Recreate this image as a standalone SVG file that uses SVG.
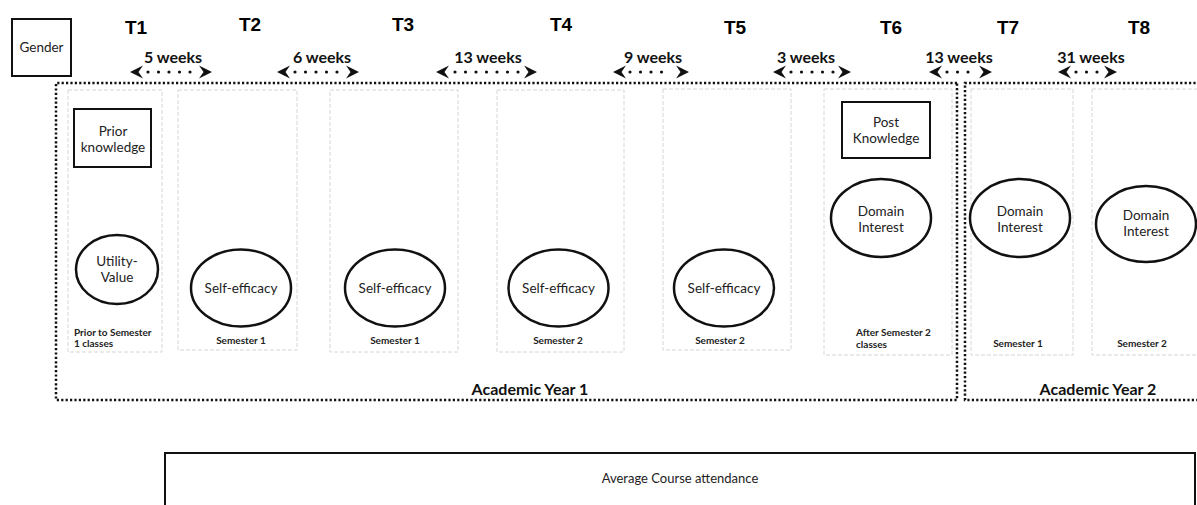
<svg xmlns="http://www.w3.org/2000/svg" width="1197" height="505" viewBox="0 0 1197 505">
<style>
.bg{fill:#ffffff}
.tlabel{font-family:"Liberation Sans",Arial,sans-serif;font-weight:bold;font-size:19px;fill:#000;text-anchor:middle}
.wk{font-family:Lato,"Liberation Sans",sans-serif;font-weight:bold;font-size:16px;fill:#111;text-anchor:middle}
.node{font-family:Lato,"Liberation Sans",sans-serif;font-size:13.5px;fill:#222;text-anchor:middle}
.small{font-family:Lato,"Liberation Sans",sans-serif;font-weight:bold;font-size:10px;fill:#222}
.ay{font-family:Lato,"Liberation Sans",sans-serif;font-weight:bold;font-size:16px;fill:#111;text-anchor:middle}
.box{fill:#fff;stroke:#111;stroke-width:2}
.ell{fill:#fff;stroke:#111;stroke-width:2.5}
.col{fill:none;stroke:#d6d6d6;stroke-width:1;stroke-dasharray:4 2}
.year{fill:none;stroke:#111;stroke-width:2.5;stroke-dasharray:2.2 2.2}
.dots{stroke:#111;stroke-width:3.2;stroke-linecap:round;stroke-dasharray:0 10.5;fill:none}
.head{fill:#111}
</style>
<defs>
<path id="hd" class="head" d="M0,-6.5 L13,0 L0,6.5 L4.5,0 Z"/>
</defs>
<rect class="bg" x="0" y="0" width="1197" height="505"/>

<g id="timepoints">
<text class="tlabel" x="136" y="34">T1</text>
<text class="tlabel" x="250" y="31">T2</text>
<text class="tlabel" x="403" y="31">T3</text>
<text class="tlabel" x="561" y="31">T4</text>
<text class="tlabel" x="735" y="34">T5</text>
<text class="tlabel" x="891" y="34">T6</text>
<text class="tlabel" x="1008" y="34">T7</text>
<text class="tlabel" x="1139" y="34">T8</text>
</g>

<g id="gender">
<rect class="box" x="12" y="19" width="59" height="57"/>
<text class="node" x="41.5" y="52">Gender</text>
</g>

<g id="year1">
<path class="year" d="M957,83 H56 V400 H957 Z"/>
<text class="ay" x="530" y="395">Academic Year 1</text>
</g>
<g id="year2">
<path class="year" d="M1200,83 H965 V400 H1200"/>
<text class="ay" x="1098" y="395">Academic Year 2</text>
</g>

<g id="col1">
<rect class="col" x="68" y="90" width="94" height="262"/>
<text class="small" x="74" y="336">Prior to Semester</text>
<text class="small" x="74" y="347">1 classes</text>
</g>
<g id="col2">
<rect class="col" x="178" y="90" width="119" height="260"/>
<text class="small" x="241" y="344" text-anchor="middle">Semester 1</text>
</g>
<g id="col3">
<rect class="col" x="330" y="90" width="128" height="262"/>
<text class="small" x="395" y="344" text-anchor="middle">Semester 1</text>
</g>
<g id="col4">
<rect class="col" x="497" y="90" width="127" height="262"/>
<text class="small" x="558" y="344" text-anchor="middle">Semester 2</text>
</g>
<g id="col5">
<rect class="col" x="663" y="89" width="128" height="261"/>
<text class="small" x="720" y="344" text-anchor="middle">Semester 2</text>
</g>
<g id="col6">
<rect class="col" x="824" y="89" width="128" height="266"/>
<text class="small" x="856" y="336">After Semester 2</text>
<text class="small" x="856" y="348">classes</text>
</g>
<g id="col7">
<rect class="col" x="971" y="89" width="102" height="266"/>
<text class="small" x="1018" y="347" text-anchor="middle">Semester 1</text>
</g>
<g id="col8">
<rect class="col" x="1092" y="89" width="120" height="266"/>
<text class="small" x="1142" y="347" text-anchor="middle">Semester 2</text>
</g>

<g id="prior-knowledge">
<rect class="box" x="74" y="109" width="77" height="58"/>
<text class="node" x="113" y="136">Prior</text>
<text class="node" x="113" y="152">knowledge</text>
</g>
<g id="post-knowledge">
<rect class="box" x="842" y="102" width="88" height="56"/>
<text class="node" x="886" y="127">Post</text>
<text class="node" x="886" y="143">Knowledge</text>
</g>

<g id="utility-value">
<ellipse class="ell" cx="117" cy="269.5" rx="41" ry="34.5"/>
<text class="node" x="117" y="266">Utility-</text>
<text class="node" x="117" y="282">Value</text>
</g>
<g id="self-efficacy-1">
<ellipse class="ell" cx="241" cy="288" rx="50" ry="38.5"/>
<text class="node" x="241" y="293">Self-efficacy</text>
</g>
<g id="self-efficacy-2">
<ellipse class="ell" cx="395" cy="288" rx="50" ry="38.5"/>
<text class="node" x="395" y="293">Self-efficacy</text>
</g>
<g id="self-efficacy-3">
<ellipse class="ell" cx="558.5" cy="288" rx="50" ry="38.5"/>
<text class="node" x="558.5" y="293">Self-efficacy</text>
</g>
<g id="self-efficacy-4">
<ellipse class="ell" cx="724" cy="288" rx="50" ry="38.5"/>
<text class="node" x="724" y="293">Self-efficacy</text>
</g>
<g id="domain-interest-1">
<ellipse class="ell" cx="881" cy="218" rx="50" ry="39"/>
<text class="node" x="881" y="216">Domain</text>
<text class="node" x="881" y="232">Interest</text>
</g>
<g id="domain-interest-2">
<ellipse class="ell" cx="1020" cy="218" rx="50" ry="39"/>
<text class="node" x="1020" y="216">Domain</text>
<text class="node" x="1020" y="232">Interest</text>
</g>
<g id="domain-interest-3">
<ellipse class="ell" cx="1146" cy="224" rx="50" ry="38"/>
<text class="node" x="1146" y="220">Domain</text>
<text class="node" x="1146" y="236">Interest</text>
</g>

<g id="attendance">
<path class="box" d="M165,520 V453 H1195 V520" fill="#fff"/>
<text class="node" x="680" y="483" style="font-size:13px">Average Course attendance</text>
</g>

<g id="connectors">
<g id="arrow-5w">
<line class="dots" x1="148" y1="72" x2="196" y2="72"/>
<use href="#hd" transform="translate(143,72) scale(-1,1)"/>
<use href="#hd" transform="translate(199,72)"/>
</g>
<g id="arrow-6w">
<line class="dots" x1="295" y1="72" x2="342" y2="72"/>
<use href="#hd" transform="translate(290,72) scale(-1,1)"/>
<use href="#hd" transform="translate(346,72)"/>
</g>
<g id="arrow-13w">
<line class="dots" x1="455" y1="72" x2="520" y2="72"/>
<use href="#hd" transform="translate(449,72) scale(-1,1)"/>
<use href="#hd" transform="translate(524,72)"/>
</g>
<g id="arrow-9w">
<line class="dots" x1="630" y1="72" x2="672" y2="72"/>
<use href="#hd" transform="translate(626,72) scale(-1,1)"/>
<use href="#hd" transform="translate(676,72)"/>
</g>
<g id="arrow-3w">
<line class="dots" x1="791" y1="72" x2="834" y2="72"/>
<use href="#hd" transform="translate(786,72) scale(-1,1)"/>
<use href="#hd" transform="translate(838,72)"/>
</g>
<g id="arrow-13w-b">
<line class="dots" x1="947" y1="72" x2="975" y2="72"/>
<use href="#hd" transform="translate(942,72) scale(-1,1)"/>
<use href="#hd" transform="translate(979,72)"/>
</g>
<g id="arrow-31w">
<line class="dots" x1="1076" y1="72" x2="1100" y2="72"/>
<use href="#hd" transform="translate(1071,72) scale(-1,1)"/>
<use href="#hd" transform="translate(1104,72)"/>
</g>
<text class="wk" x="173" y="63">5 weeks</text>
<text class="wk" x="322" y="63">6 weeks</text>
<text class="wk" x="488" y="63">13 weeks</text>
<text class="wk" x="653" y="63">9 weeks</text>
<text class="wk" x="806" y="63">3 weeks</text>
<text class="wk" x="959" y="63">13 weeks</text>
<text class="wk" x="1091" y="63">31 weeks</text>
</g>
</svg>
